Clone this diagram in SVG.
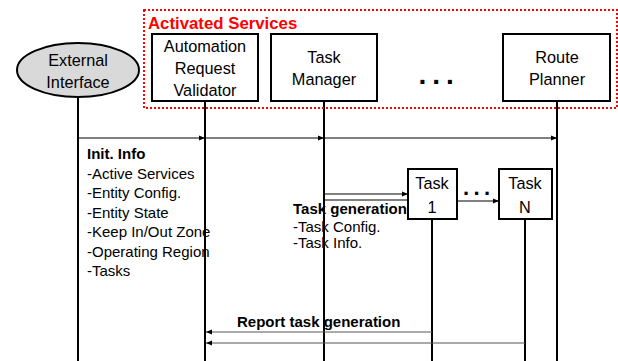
<svg xmlns="http://www.w3.org/2000/svg" width="618" height="361" viewBox="0 0 618 361">
<style>
.box{fill:#fff;stroke:#000;stroke-width:2}
.life{stroke:#000;stroke-width:2;fill:none}
.lbl{font-family:"Liberation Sans",Arial,sans-serif;font-size:16.3px;fill:#000;text-anchor:middle}
.msg{stroke:#000;stroke-width:1;fill:none}
.ret{stroke:#555;stroke-width:1;fill:none}
.t{font-family:"Liberation Sans",Arial,sans-serif;font-size:15px;fill:#000}
.b{font-weight:bold}
.dots{font-family:"Liberation Sans",Arial,sans-serif;font-weight:bold;fill:#000}
</style>
<defs>
<marker id="ah" markerWidth="6" markerHeight="6" refX="6" refY="3" orient="auto" markerUnits="userSpaceOnUse">
<path d="M0,0.5 L6,3 L0,5.5 z" fill="#000"/>
</marker>
</defs>
<rect width="618" height="361" fill="#fff"/>
<g id="lifelines">
<line class="life" x1="78" y1="97" x2="78" y2="361"/>
<line class="life" x1="205" y1="101" x2="205" y2="361"/>
<line class="life" x1="324" y1="101" x2="324" y2="361"/>
<line class="life" x1="557" y1="101" x2="557" y2="361"/>
<line class="life" x1="432" y1="219" x2="432" y2="361"/>
<line class="life" x1="525" y1="219" x2="525" y2="361"/>
</g>
<g id="activated-services">
<rect x="144" y="10" width="473" height="98" fill="none" stroke="#f00" stroke-width="2" stroke-dasharray="2,2"/>
<text x="148" y="29" font-family="Liberation Sans,Arial,sans-serif" font-size="16.8" font-weight="bold" fill="#f00">Activated Services</text>
</g>
<g id="external-interface">
<ellipse cx="78" cy="70" rx="61" ry="27" fill="#d9d9d9" stroke="#000" stroke-width="2"/>
<text class="lbl" x="78" y="66">External</text>
<text class="lbl" x="78" y="88">Interface</text>
</g>
<g id="automation-request-validator">
<rect class="box" x="152" y="34" width="106" height="67"/>
<text class="lbl" x="205" y="52">Automation</text>
<text class="lbl" x="205" y="74">Request</text>
<text class="lbl" x="205" y="96">Validator</text>
</g>
<g id="task-manager">
<rect class="box" x="271" y="34" width="106" height="67"/>
<text class="lbl" x="324" y="63">Task</text>
<text class="lbl" x="324" y="85">Manager</text>
</g>
<g id="service-dots">
<text class="dots" x="418.5" y="84" font-size="28" letter-spacing="6">...</text>
</g>
<g id="route-planner">
<rect class="box" x="503" y="34" width="107" height="67"/>
<text class="lbl" x="557" y="63">Route</text>
<text class="lbl" x="557" y="85">Planner</text>
</g>
<g id="task-1">
<rect class="box" x="408" y="169" width="49" height="50"/>
<text class="lbl" x="432" y="189">Task</text>
<text class="lbl" x="432" y="213">1</text>
</g>
<g id="task-dots">
<text class="dots" x="463" y="195" font-size="22" letter-spacing="4.4">...</text>
</g>
<g id="task-n">
<rect class="box" x="499" y="169" width="53" height="50"/>
<text class="lbl" x="525" y="189">Task</text>
<text class="lbl" x="525" y="213">N</text>
</g>
<g id="connectors">
<line class="msg" x1="78" y1="138" x2="205" y2="138" marker-end="url(#ah)"/>
<line class="msg" x1="205" y1="138" x2="324" y2="138" marker-end="url(#ah)"/>
<line class="msg" x1="324" y1="138" x2="557" y2="138" marker-end="url(#ah)"/>
<line class="msg" x1="324" y1="194" x2="408" y2="194" marker-end="url(#ah)"/>
<line class="msg" x1="324" y1="200" x2="408" y2="200"/>
<line class="msg" x1="457" y1="201" x2="499" y2="201" marker-end="url(#ah)"/>
<line class="ret" x1="432" y1="332" x2="206" y2="332" marker-end="url(#ah)"/>
<line class="ret" x1="525" y1="343" x2="206" y2="343" marker-end="url(#ah)"/>
</g>
<g id="labels">
<text class="t" x="87" y="159"><tspan class="b">Init. Info</tspan><tspan x="87" y="178.5">-Active Services</tspan><tspan x="87" y="198">-Entity Config.</tspan><tspan x="87" y="217.5">-Entity State</tspan><tspan x="87" y="237">-Keep In/Out Zone</tspan><tspan x="87" y="256.5">-Operating Region</tspan><tspan x="87" y="276">-Tasks</tspan></text>
<text class="t" x="293" y="214" font-size="13"><tspan class="b">Task generation</tspan><tspan x="293" y="232">-Task Config.</tspan><tspan x="293" y="248">-Task Info.</tspan></text>
<text class="t b" x="237" y="327">Report task generation</text>
</g>
</svg>
